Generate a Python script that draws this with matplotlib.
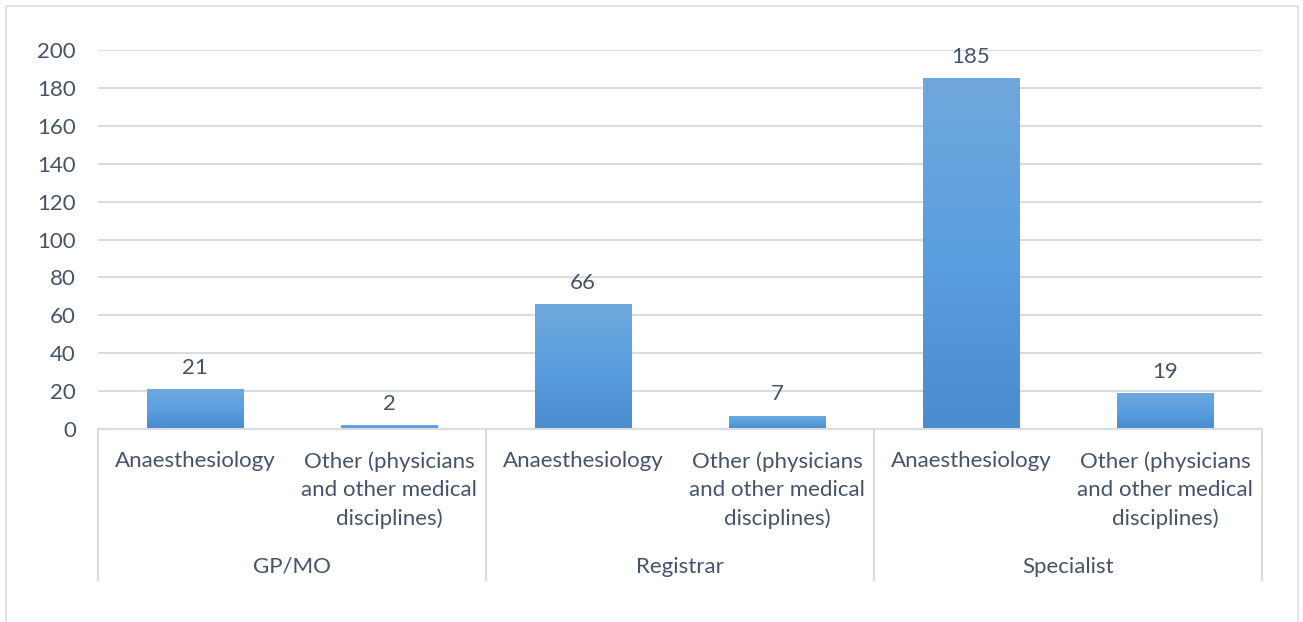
import numpy as np
import matplotlib.pyplot as plt
from matplotlib.patches import Rectangle
from matplotlib.colors import LinearSegmentedColormap

plt.rcParams['font.family'] = ['Lato', 'DejaVu Sans']

# data
groups = ['GP/MO', 'Registrar', 'Specialist']
categories = ['Anaesthesiology', 'Other (physicians\nand other medical\ndisciplines)'] * 3
values = [21, 2, 66, 7, 185, 19]
yticks = [0, 20, 40, 60, 80, 100, 120, 140, 160, 180, 200]

text_col = '#44546a'
grid_col = '#d9dde3'
W, H = 1303, 622
fs = 16

fig = plt.figure(figsize=(W / 100, H / 100), dpi=100)
ax = fig.add_axes([98 / W, 1 - 429 / H, (1262 - 98) / W, (429 - 50) / H])

# outer frame (bottom edge falls outside the image)
fig.patches.append(Rectangle((6 / W, -0.05), (1298 - 6) / W, 1.05 - 6 / H, transform=fig.transFigure,
                             fill=False, edgecolor='#d9dde3', linewidth=1.2))

cmap = LinearSegmentedColormap.from_list('bar', ['#4a8cce', '#5a9fe0', '#70a8dc'])
grad = np.linspace(0, 1, 256).reshape(-1, 1)

x = np.arange(len(values))
bw = 0.5
bars = ax.bar(x, values, width=bw, color='none', zorder=2)
for b, v in zip(bars, values):
    im = ax.imshow(grad, extent=[b.get_x(), b.get_x() + bw, 0, v], origin='lower',
                   cmap=cmap, aspect='auto', zorder=2)
    im.set_clip_path(b)
    ax.text(b.get_x() + bw / 2, v + 6, str(v), ha='center', va='bottom',
            fontsize=fs, color=text_col)

ax.set_xlim(-0.5, len(values) - 0.5)
ax.set_ylim(0, 200)
ax.set_yticks(yticks)
ax.tick_params(axis='y', length=0, labelsize=fs, labelcolor=text_col, pad=16)
ax.set_xticks([])
ax.grid(axis='y', color=grid_col, linewidth=1.5, zorder=0)
ax.set_axisbelow(True)
for s in ['top', 'right', 'left']:
    ax.spines[s].set_visible(False)
ax.spines['bottom'].set_color(grid_col)
ax.spines['bottom'].set_linewidth(1.5)

# category labels
for xi, c in zip(x, categories):
    ax.annotate(c, (xi, 0), xytext=(0, -16), textcoords='offset points', ha='center', va='top',
                fontsize=fs, color=text_col, linespacing=1.52, annotation_clip=False)

# group labels and separators
tr = ax.get_xaxis_transform()
for i, g in enumerate(groups):
    ax.annotate(g, (2 * i + 0.5, 0), xytext=(0, -92), textcoords='offset points', ha='center',
                va='top', fontsize=fs, color=text_col, annotation_clip=False)
for sx in [-0.5, 1.5, 3.5, 5.5]:
    ax.plot([sx, sx], [0, -151 / 379], transform=tr, color=grid_col, linewidth=1.5, clip_on=False)

fig.savefig('out.png', dpi=100)
